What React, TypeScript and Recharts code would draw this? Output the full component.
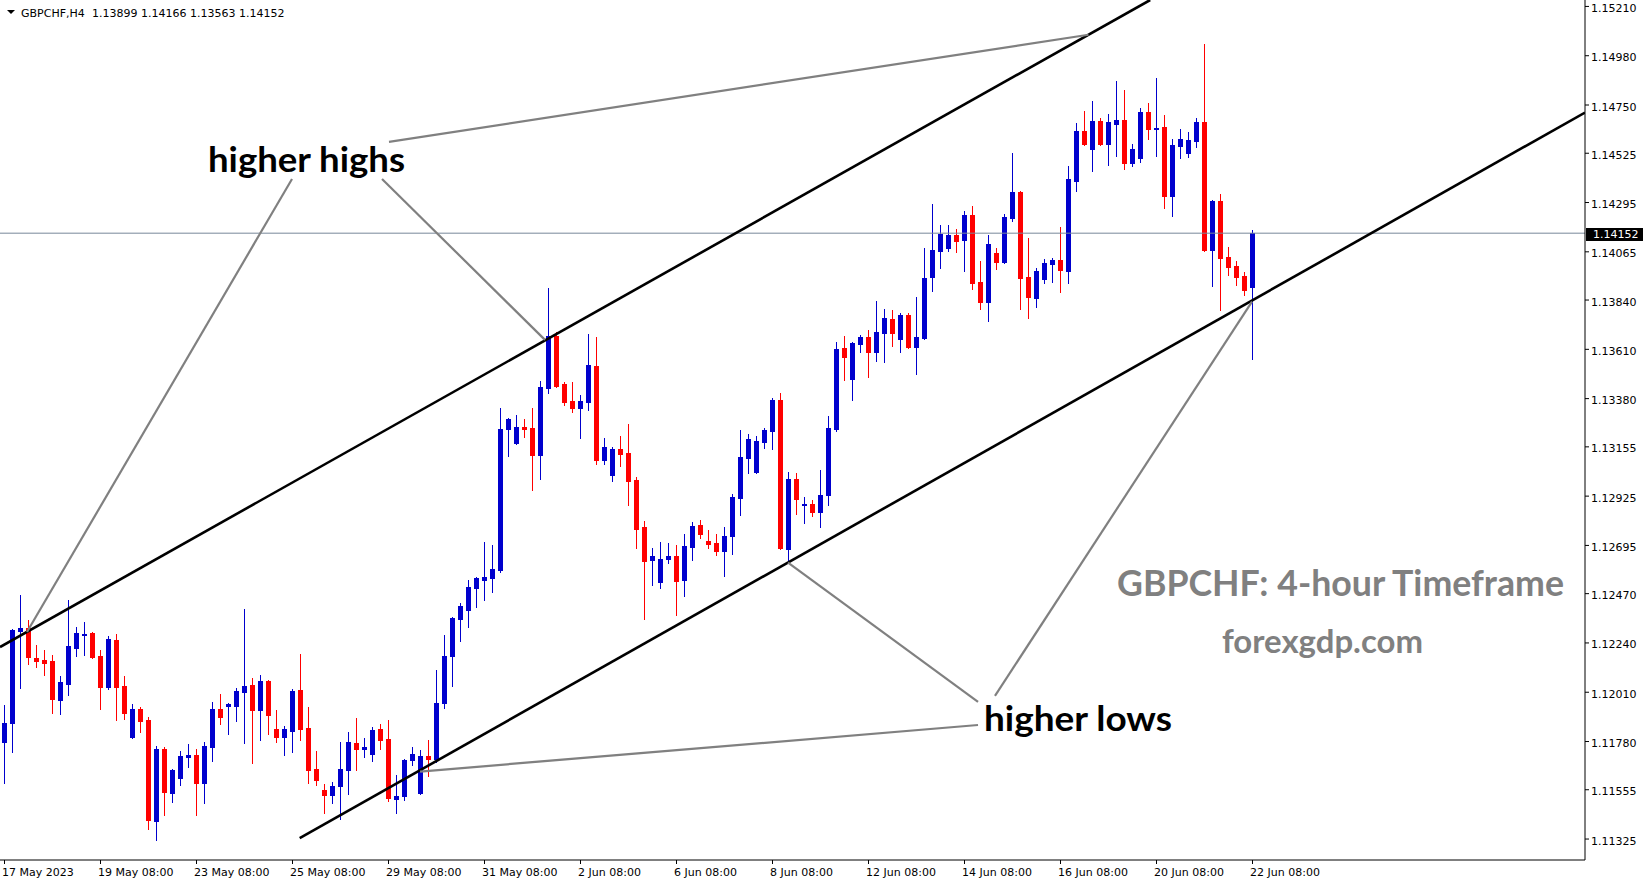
import React from 'react';
import { ComposedChart, Bar, XAxis, YAxis, ReferenceLine } from 'recharts';

const opens = [
  1.11778, 1.11866, 1.12295, 1.12310, 1.12170, 1.12160, 1.12155, 1.11974, 1.12048, 1.12217,
  1.12277, 1.12286, 1.12179, 1.12034, 1.12254, 1.12039, 1.11801, 1.11932, 1.11880, 1.11409,
  1.11745, 1.11540, 1.11610, 1.11707, 1.11717, 1.11586, 1.11754, 1.11932, 1.11946, 1.11946,
  1.12011, 1.12044, 1.11927, 1.12062, 1.11838, 1.11801, 1.11829, 1.12020, 1.11843, 1.11652,
  1.11554, 1.11531, 1.11572, 1.11647, 1.11773, 1.11745, 1.11721, 1.11838, 1.11792, 1.11512,
  1.11526, 1.11694, 1.11538, 1.11712, 1.11698, 1.11960, 1.12179, 1.12354, 1.12394, 1.12496,
  1.12536, 1.12543, 1.12582, 1.13237, 1.13173, 1.13248, 1.13243, 1.13117, 1.13430, 1.13672,
  1.13448, 1.13369, 1.13336, 1.13364, 1.13532, 1.13094, 1.13024, 1.13145, 1.13126, 1.13000,
  1.12781, 1.12627, 1.12524, 1.12632, 1.12646, 1.12534, 1.12687, 1.12790, 1.12715, 1.12706,
  1.12669, 1.12739, 1.12916, 1.13103, 1.13038, 1.13178, 1.13229, 1.13374, 1.12678, 1.13005,
  1.12884, 1.12888, 1.12851, 1.12930, 1.13238, 1.13617, 1.13472, 1.13635, 1.13668, 1.13598,
  1.13686, 1.13751, 1.13658, 1.13770, 1.13621, 1.13663, 1.13947, 1.14068, 1.14083, 1.14143,
  1.14120, 1.14237, 1.13924, 1.13831, 1.14059, 1.14017, 1.14223, 1.14344, 1.13947, 1.13850,
  1.13938, 1.14008, 1.14027, 1.13975, 1.14395, 1.14629, 1.14545, 1.14675, 1.14568, 1.14661,
  1.14680, 1.14479, 1.14503, 1.14717, 1.14638, 1.14647, 1.14325, 1.14559, 1.14526, 1.14582,
  1.14671, 1.14073, 1.14302, 1.14041, 1.13999, 1.13952, 1.13899,
];
const highs = [
  1.11951, 1.12305, 1.12464, 1.12347, 1.12231, 1.12207, 1.12184, 1.12086, 1.12440, 1.12314,
  1.12338, 1.12290, 1.12207, 1.12272, 1.12281, 1.12086, 1.11955, 1.11941, 1.11894, 1.11759,
  1.11754, 1.11652, 1.11735, 1.11768, 1.11745, 1.11778, 1.11965, 1.12001, 1.11960, 1.12030,
  1.12398, 1.12077, 1.12091, 1.12065, 1.11927, 1.11852, 1.12025, 1.12188, 1.11941, 1.11735,
  1.11582, 1.11591, 1.11778, 1.11825, 1.11889, 1.11797, 1.11847, 1.11861, 1.11880, 1.11624,
  1.11697, 1.11754, 1.11740, 1.11787, 1.12114, 1.12277, 1.12360, 1.12426, 1.12536, 1.12548,
  1.12713, 1.12697, 1.13336, 1.13290, 1.13304, 1.13287, 1.13336, 1.13462, 1.13896, 1.13691,
  1.13458, 1.13458, 1.13397, 1.13682, 1.13668, 1.13197, 1.13154, 1.13206, 1.13262, 1.13014,
  1.12809, 1.12683, 1.12711, 1.12706, 1.12697, 1.12748, 1.12804, 1.12814, 1.12767, 1.12748,
  1.12781, 1.12935, 1.13234, 1.13215, 1.13206, 1.13243, 1.13383, 1.13406, 1.13038, 1.13033,
  1.12921, 1.12907, 1.13047, 1.13299, 1.13645, 1.13672, 1.13645, 1.13677, 1.13700, 1.13835,
  1.13798, 1.13793, 1.13779, 1.13779, 1.13854, 1.14083, 1.14288, 1.14190, 1.14190, 1.14171,
  1.14255, 1.14279, 1.14022, 1.14143, 1.14083, 1.14241, 1.14526, 1.14348, 1.14129, 1.13989,
  1.14031, 1.14036, 1.14181, 1.14465, 1.14666, 1.14722, 1.14768, 1.14689, 1.14708, 1.14862,
  1.14820, 1.14568, 1.14736, 1.14759, 1.14876, 1.14703, 1.14591, 1.14638, 1.14624, 1.14689,
  1.15035, 1.14307, 1.14335, 1.14087, 1.14022, 1.13971, 1.14166,
];
const lows = [
  1.11586, 1.11731, 1.12030, 1.12141, 1.12127, 1.12091, 1.11913, 1.11908, 1.11997, 1.12179,
  1.12184, 1.12170, 1.11932, 1.12025, 1.11880, 1.11885, 1.11797, 1.11825, 1.11372, 1.11320,
  1.11437, 1.11498, 1.11577, 1.11661, 1.11437, 1.11493, 1.11689, 1.11861, 1.11815, 1.11875,
  1.11773, 1.11680, 1.11787, 1.11815, 1.11778, 1.11717, 1.11731, 1.11787, 1.11586, 1.11577,
  1.11446, 1.11493, 1.11418, 1.11535, 1.11647, 1.11707, 1.11689, 1.11745, 1.11502, 1.11446,
  1.11507, 1.11671, 1.11535, 1.11619, 1.11684, 1.11937, 1.12039, 1.12249, 1.12314, 1.12408,
  1.12440, 1.12478, 1.12571, 1.13113, 1.13168, 1.13201, 1.12954, 1.13005, 1.13406, 1.13434,
  1.13350, 1.13318, 1.13197, 1.13327, 1.13075, 1.13075, 1.12996, 1.13066, 1.12884, 1.12683,
  1.12352, 1.12510, 1.12496, 1.12613, 1.12370, 1.12459, 1.12627, 1.12730, 1.12683, 1.12651,
  1.12552, 1.12655, 1.12837, 1.13033, 1.13033, 1.13150, 1.13145, 1.12678, 1.12618, 1.12842,
  1.12800, 1.12832, 1.12781, 1.12884, 1.13229, 1.13467, 1.13374, 1.13598, 1.13481, 1.13556,
  1.13551, 1.13626, 1.13598, 1.13616, 1.13495, 1.13658, 1.13882, 1.13989, 1.14068, 1.14064,
  1.13975, 1.13891, 1.13798, 1.13742, 1.13985, 1.14013, 1.14208, 1.13798, 1.13756, 1.13807,
  1.13919, 1.13924, 1.13878, 1.13919, 1.14349, 1.14563, 1.14442, 1.14563, 1.14470, 1.14512,
  1.14451, 1.14465, 1.14484, 1.14591, 1.14512, 1.14269, 1.14232, 1.14503, 1.14507, 1.14554,
  1.14068, 1.13905, 1.13793, 1.13957, 1.13910, 1.13864, 1.13563,
];
const closes = [
  1.11866, 1.12300, 1.12310, 1.12174, 1.12155, 1.12146, 1.11978, 1.12058, 1.12226, 1.12286,
  1.12281, 1.12174, 1.12034, 1.12258, 1.12034, 1.11913, 1.11932, 1.11875, 1.11414, 1.11745,
  1.11545, 1.11647, 1.11712, 1.11717, 1.11586, 1.11759, 1.11932, 1.11894, 1.11955, 1.12015,
  1.12039, 1.11927, 1.12062, 1.11904, 1.11801, 1.11838, 1.12015, 1.11838, 1.11647, 1.11600,
  1.11531, 1.11572, 1.11652, 1.11778, 1.11745, 1.11754, 1.11834, 1.11787, 1.11517, 1.11528,
  1.11694, 1.11721, 1.11712, 1.11698, 1.11960, 1.12179, 1.12356, 1.12412, 1.12501, 1.12541,
  1.12546, 1.12587, 1.13237, 1.13285, 1.13248, 1.13238, 1.13117, 1.13434, 1.13672, 1.13439,
  1.13364, 1.13336, 1.13369, 1.13537, 1.13094, 1.13154, 1.13145, 1.13122, 1.12996, 1.12772,
  1.12622, 1.12646, 1.12632, 1.12646, 1.12529, 1.12692, 1.12786, 1.12748, 1.12701, 1.12669,
  1.12739, 1.12921, 1.13108, 1.13192, 1.13182, 1.13234, 1.13374, 1.12683, 1.13005, 1.12912,
  1.12888, 1.12851, 1.12930, 1.13243, 1.13612, 1.13574, 1.13640, 1.13668, 1.13598, 1.13691,
  1.13756, 1.13686, 1.13770, 1.13621, 1.13668, 1.13943, 1.14073, 1.14148, 1.14143, 1.14115,
  1.14237, 1.13919, 1.13831, 1.14101, 1.14017, 1.14227, 1.14344, 1.13943, 1.13854, 1.13975,
  1.14013, 1.14027, 1.13980, 1.14405, 1.14629, 1.14568, 1.14675, 1.14568, 1.14671, 1.14680,
  1.14479, 1.14545, 1.14717, 1.14638, 1.14643, 1.14325, 1.14563, 1.14591, 1.14587, 1.14671,
  1.14073, 1.14302, 1.14036, 1.13994, 1.13947, 1.13887, 1.14152,
];

const xTickIdx = [0, 12, 24, 36, 48, 60, 72, 84, 96, 108, 120, 132, 144, 156];
const xTickLabels = [
  '17 May 2023', '19 May 08:00', '23 May 08:00', '25 May 08:00', '29 May 08:00',
  '31 May 08:00', '2 Jun 08:00', '6 Jun 08:00', '8 Jun 08:00', '12 Jun 08:00',
  '14 Jun 08:00', '16 Jun 08:00', '20 Jun 08:00', '22 Jun 08:00',
];
const yTicks = [
  1.1521, 1.1498, 1.1475, 1.14525, 1.14295, 1.14065, 1.1384, 1.1361, 1.1338,
  1.13155, 1.12925, 1.12695, 1.1247, 1.1224, 1.1201, 1.1178, 1.11555, 1.11325,
];

const symbolName = 'GBPCHF,H4';
const headerValues = '1.13899 1.14166 1.13563 1.14152';
const lastPrice = 1.14152;

const upperChannel = [{ x: -0.5625, y: 1.12221 }, { x: 143.21, y: 1.1524 }];
const lowerChannel = [{ x: 36.9, y: 1.11329 }, { x: 197.5625, y: 1.14715 }];
const pointerLines = [
  [{ x: 48.06, y: 1.14578 }, { x: 135.5, y: 1.15078 }],
  [{ x: 35.94, y: 1.14405 }, { x: 2.81, y: 1.12291 }],
  [{ x: 47.19, y: 1.14405 }, { x: 67.56, y: 1.13654 }],
  [{ x: 121.69, y: 1.11965 }, { x: 97.94, y: 1.12615 }],
  [{ x: 121.69, y: 1.11857 }, { x: 51.94, y: 1.1164 }],
  [{ x: 123.81, y: 1.11993 }, { x: 155.94, y: 1.13833 }],
];

const data = opens.map((o, i) => ({
  i,
  open: o,
  high: highs[i],
  low: lows[i],
  close: closes[i],
  range: [lows[i], highs[i]],
}));

const W = 1649;
const H = 884;
const AXIS_FONT = '"DejaVu Sans", sans-serif';

const Candle = (props: any) => {
  let { x, y, width, height, payload } = props;
  if (x == null || y == null || !payload) return null;
  if (height < 0) {
    y = y + height;
    height = -height;
  }
  const { open, close, high, low } = payload;
  const up = close >= open;
  const color = up ? '#0000CD' : '#FF0000';
  const cx = Math.floor(x + width / 2);
  const k = high - low > 0 ? height / (high - low) : 0;
  const yHigh = Math.round(y);
  const yLow = Math.round(y + height);
  const yO = Math.round(y + (high - open) * k);
  const yC = Math.round(y + (high - close) * k);
  const top = Math.min(yO, yC);
  const bot = Math.max(yO, yC);
  return (
    <g shapeRendering="crispEdges">
      <rect x={cx} y={yHigh} width={1} height={Math.max(1, yLow - yHigh + 1)} fill={color} />
      <rect x={cx - 2} y={top} width={5} height={Math.max(1, bot - top + 1)} fill={color} />
    </g>
  );
};

const XTick = (props: any) => {
  const { x, payload } = props;
  const idx = xTickIdx.indexOf(payload.value);
  const label = idx >= 0 ? xTickLabels[idx] : '';
  return (
    <text x={x - 2.5} y={875.5} textAnchor="start" fontSize={11} fontFamily={AXIS_FONT} fill="#000">
      {label}
    </text>
  );
};

const YTick = (props: any) => {
  const { y, payload } = props;
  return (
    <text x={1591} y={y + 5.5} textAnchor="start" fontSize={11} fontFamily={AXIS_FONT} fill="#000">
      {Number(payload.value).toFixed(5)}
    </text>
  );
};

const PriceTag = (props: any) => {
  const vb = props.viewBox || {};
  const right = (vb.x || 0) + (vb.width || 0);
  const yy = vb.y || 0;
  return (
    <g>
      <rect x={right + 1} y={Math.round(yy) - 5} width={57} height={13} fill="#000" shapeRendering="crispEdges" />
      <text x={right + 8} y={yy + 5} fontSize={11} fontFamily={AXIS_FONT} fill="#fff">
        {lastPrice.toFixed(5)}
      </text>
    </g>
  );
};

export default function App() {
  return (
    <div style={{ position: 'absolute', left: 0, top: 0, width: W, height: H, background: '#fff' }}>
      <ComposedChart
        width={W}
        height={H}
        data={data}
        margin={{ top: 0, right: 0, bottom: 0, left: 0 }}
      >
        <XAxis
          dataKey="i"
          type="number"
          domain={[-0.5625, 197.5625]}
          allowDataOverflow
          ticks={xTickIdx}
          interval={0}
          height={24}
          axisLine={{ stroke: '#000' }}
          tickLine={{ stroke: '#000' }}
          tickSize={4}
          tick={<XTick />}
        />
        <YAxis
          orientation="right"
          type="number"
          domain={[1.112272, 1.1524]}
          allowDataOverflow
          ticks={yTicks}
          interval={0}
          width={64}
          axisLine={{ stroke: '#000' }}
          tickLine={{ stroke: '#000' }}
          tickSize={4}
          tick={<YTick />}
        />
        <ReferenceLine y={lastPrice} stroke="#778899" strokeWidth={1} label={<PriceTag />} ifOverflow="visible" />
        <Bar dataKey="range" barSize={5} isAnimationActive={false} shape={(p: any) => <Candle {...p} />} />
        <ReferenceLine segment={upperChannel} stroke="#000" strokeWidth={2.6} ifOverflow="hidden" />
        <ReferenceLine segment={lowerChannel} stroke="#000" strokeWidth={2.6} ifOverflow="hidden" />
        {pointerLines.map((seg, k) => (
          <ReferenceLine key={k} segment={seg} stroke="#808080" strokeWidth={2.2} ifOverflow="hidden" />
        ))}
      </ComposedChart>
      <svg
        width={W}
        height={H}
        style={{ position: 'absolute', left: 0, top: 0, pointerEvents: 'none' }}
      >
        <polygon points="7,10 15,10 11,14" fill="#000" />
        <text x={21} y={17} fontSize={11} fontFamily={AXIS_FONT} fill="#000">{symbolName}</text>
        <text x={92} y={17} fontSize={11} fontFamily={AXIS_FONT} fill="#000">{headerValues}</text>
        <text x={208} y={172} fontSize={35} fontWeight="bold" fontFamily="Lato, sans-serif" fill="#000" textLength={197} lengthAdjust="spacingAndGlyphs">higher highs</text>
        <text x={984} y={731} fontSize={35} fontWeight="bold" fontFamily="Lato, sans-serif" fill="#000" textLength={188} lengthAdjust="spacingAndGlyphs">higher lows</text>
        <text x={1117} y={596} fontSize={36} fontWeight="bold" fontFamily="Lato, sans-serif" fill="#808080" textLength={447} lengthAdjust="spacingAndGlyphs">GBPCHF: 4-hour Timeframe</text>
        <text x={1222} y={653} fontSize={32} fontWeight="bold" fontFamily="Lato, sans-serif" fill="#808080" textLength={201} lengthAdjust="spacingAndGlyphs">forexgdp.com</text>
      </svg>
    </div>
  );
}
